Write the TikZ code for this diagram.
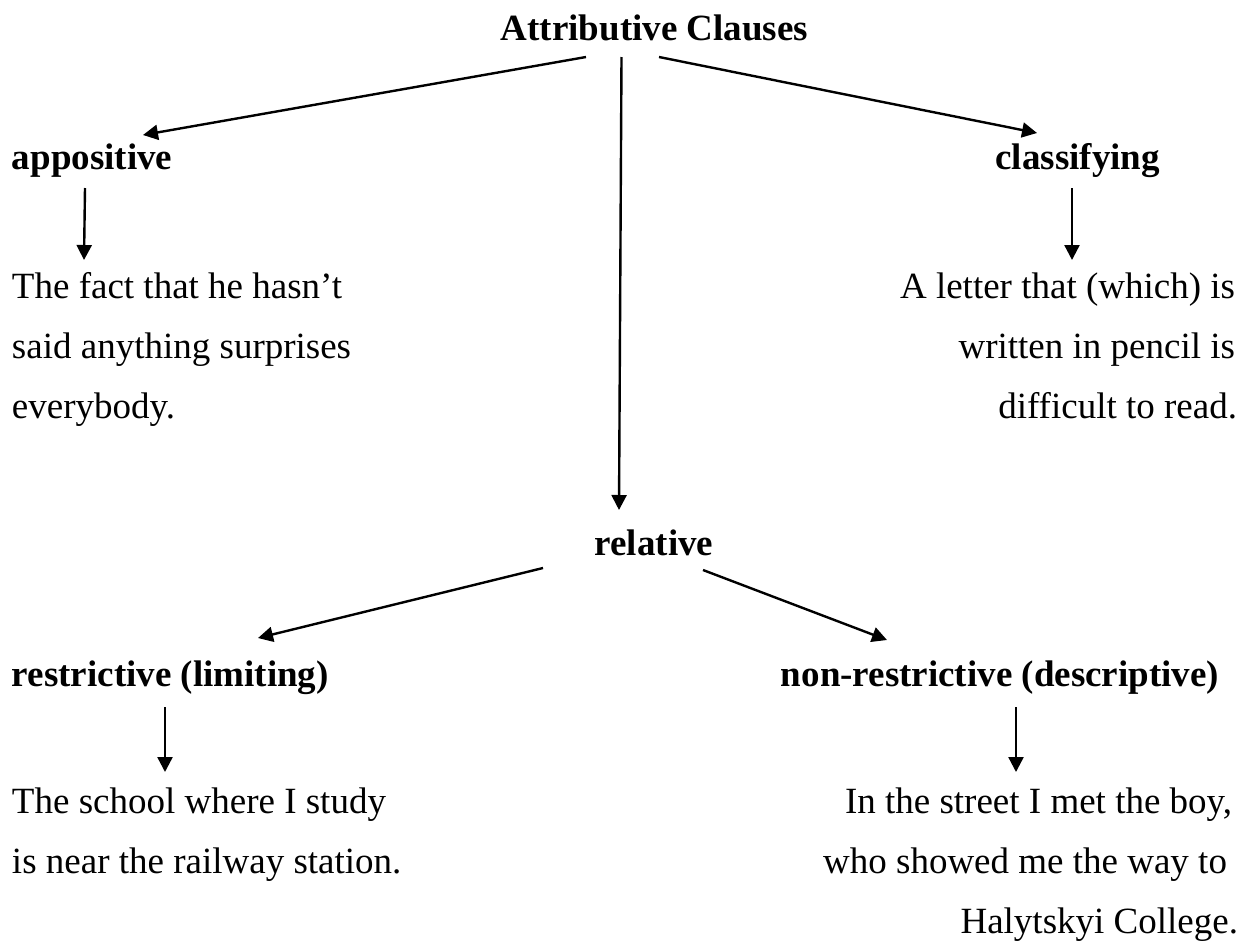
\documentclass[tikz,border=0pt]{standalone}
\usepackage{fontspec}
\setmainfont{Liberation Serif}
\usetikzlibrary{arrows.meta}
\tikzset{
  txt/.style={inner sep=0pt, outer sep=0pt, font=\fontsize{37}{44}\selectfont},
  head/.style={txt, font=\fontsize{37}{44}\selectfont\bfseries},
  arr/.style={line width=2.4pt, -{Triangle[length=15pt,width=15pt]}},
}
\begin{document}
\begin{tikzpicture}[x=1pt,y=-1pt]
\useasboundingbox (0,0) rectangle (1247,948);

% headings
\node[head, anchor=base] (title) at (654.5,40) {Attributive Clauses};
\node[head, anchor=base west] (appo) at (12,169) {appositive};
\node[head, anchor=base east] (class) at (1160,169) {classifying};
\node[head, anchor=base] (rel) at (654,555) {relative};
\node[head, anchor=base west] (restr) at (12,686) {restrictive (limiting)};
\node[head, anchor=base east] (nonr) at (1219,686) {non-restrictive (descriptive)};

% example sentences
\node[txt, anchor=base west] (a1) at (12,298) {The fact that he hasn’t};
\node[txt, anchor=base west] (a2) at (12,358) {said anything surprises};
\node[txt, anchor=base west] (a3) at (12,418) {everybody.};

\node[txt, anchor=base east] (c1) at (1235,298) {A letter that (which) is};
\node[txt, anchor=base east] (c2) at (1235,358) {written in pencil is};
\node[txt, anchor=base east] (c3) at (1237,418) {difficult to read.};

\node[txt, anchor=base west] (s1) at (12,813) {The school where I study};
\node[txt, anchor=base west] (s2) at (12,873) {is near the railway station.};

\node[txt, anchor=base east] (n1) at (1232,813) {In the street I met the boy,};
\node[txt, anchor=base east] (n2) at (1227,873) {who showed me the way to};
\node[txt, anchor=base east] (n3) at (1238,933) {Halytskyi College.};

% connectors
\draw[arr] ([shift={(-68.5,17)}]title.base) -- ([shift={(131,-34)}]appo.base west);
\draw[arr] ([shift={(-33,17)}]title.base) -- ([shift={(-35,-45)}]rel.base);
\draw[arr] ([shift={(4.5,17)}]title.base) -- ([shift={(-123,-36)}]class.base east);

\draw[arr] ([shift={(73,19)}]appo.base west) -- ([shift={(72,-38)}]a1.base west);
\draw[arr] ([shift={(-88,19)}]class.base east) -- ([shift={(-163,-38)}]c1.base east);

\draw[arr] ([shift={(-111,13)}]rel.base) -- ([shift={(246,-48)}]restr.base west);
\draw[arr] ([shift={(49,15)}]rel.base) -- ([shift={(-332,-46)}]nonr.base east);

\draw[arr] ([shift={(153,21)}]restr.base west) -- ([shift={(153,-41)}]s1.base west);
\draw[arr] ([shift={(-203,21)}]nonr.base east) -- ([shift={(-216,-41)}]n1.base east);
\end{tikzpicture}
\end{document}
